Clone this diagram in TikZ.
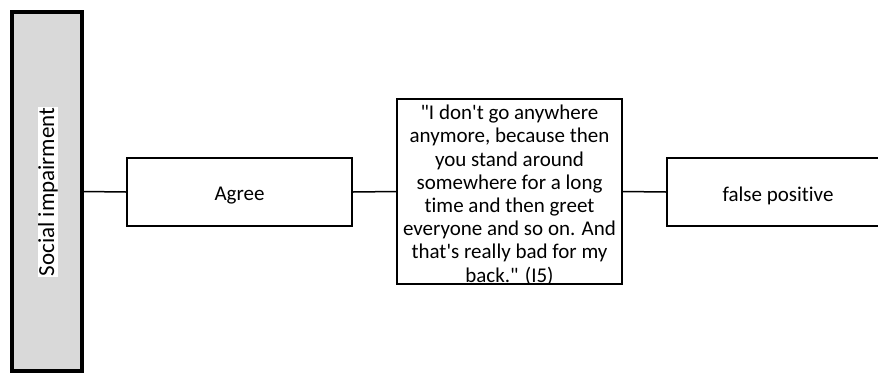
\documentclass[tikz,border=0pt]{standalone}
\usepackage{fontspec}
\setmainfont{Carlito}[Ligatures={NoCommon}]
\newcommand{\dq}{\textquotedbl}
\newcommand{\sq}{\textquotesingle}
\begin{document}
\begin{tikzpicture}[x=1pt,y=-1pt,
  box/.style={draw=black,line width=1.6pt,fill=white,inner sep=0pt},
  boxtext/.style={inner sep=0pt,align=center,yshift=-3.5pt,
    font=\fontsize{21}{23.2}\selectfont},
  conn/.style={draw=black,line width=1.5pt}]
\useasboundingbox (0,0) rectangle (878,373);
\node[draw=black,line width=3.5pt,fill={rgb,255:red,217;green,217;blue,217},
  minimum width=70pt,minimum height=359pt,inner sep=0pt] (cat) at (47,191.5) {};
\node[fill=white,inner sep=0.5pt,rotate=90,font=\fontsize{23}{25}\selectfont] (catlbl) at (48,192) {Social impairment};
\node[box,minimum width=225pt,minimum height=68pt,
  label={[boxtext]center:Agree}] (agree) at (239.5,192) {};
\node[box,minimum width=225pt,minimum height=185pt,
  label={[boxtext]center:{\dq I don\sq t go anywhere\\anymore, because then\\you stand around\\somewhere for a long\\time and then greet\\everyone and so on. And\\that\sq s really bad for my\\back.\dq{} (I5)}}] (quote) at (509.5,191.5) {};
\node[box,minimum width=222pt,minimum height=68pt,
  label={[boxtext]center:false positive}] (fp) at (778,192) {};
\draw[conn] (cat.east) -- (agree.west);
\draw[conn] (agree.east) -- (quote.west);
\draw[conn] (quote.east) -- (fp.west);
\end{tikzpicture}
\end{document}
